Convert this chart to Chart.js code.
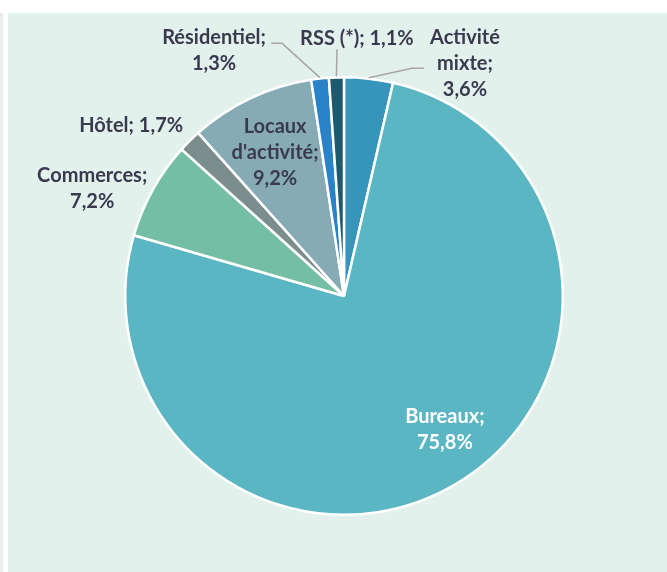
<!DOCTYPE html>
<html>
<head>
<meta charset="utf-8">
<script src="https://cdn.jsdelivr.net/npm/chart.js@4/dist/chart.umd.min.js"></script>
<style>
  body { margin: 0; background: #ffffff; }
  #wrap { position: relative; width: 667px; height: 572px; overflow: hidden; }
  #strip { position: absolute; left: 0; top: 13px; width: 3px; bottom: 0; background: #e4efeb; }
  #panel { position: absolute; left: 8px; top: 13px; right: 0; bottom: 0; background: #e3f1ec; }
  #graphPie { position: absolute; left: 0; top: 0; }
</style>
</head>
<body>
<div id="wrap">
  <div id="strip"></div>
  <div id="panel"></div>
  <canvas id="graphPie" width="667" height="572"></canvas>
</div>
<script>
// Données
const categories = ['Activité mixte', 'Bureaux', 'Commerces', 'Hôtel', "Locaux d'activité", 'Résidentiel', 'RSS (*)'];
const valeurs = [3.6, 75.8, 7.2, 1.7, 9.2, 1.3, 1.1];
const couleurs = ['#3795bc', '#5ab6c2', '#75bea6', '#7b8d8c', '#87abb4', '#2a83c9', '#1f596d'];

// texte des étiquettes (lignes)
const etiquettes = [
    ['Activité', 'mixte;', '3,6%'],
    ['Bureaux;', '75,8%'],
    ['Commerces;', '7,2%'],
    ['Hôtel; 1,7%'],
    ['Locaux', "d'activité;", '9,2%'],
    ['Résidentiel;', '1,3%'],
    ['RSS (*); 1,1%']
];
// position du centre de l'étiquette, en rayons depuis le centre
const posEtiquettes = [
    [0.553, -1.064], [0.461, 0.612], [-1.151, -0.493], [-0.973, -0.781],
    [-0.315, -0.658], [-0.594, -1.123], [0.059, -1.178]
];
// lignes de rappel (points après le bord de l'arc)
const rappels = {
    0: [[0.311, -1.041], [0.365, -1.041]],
    5: [[-0.283, -1.155], [-0.333, -1.155]],
    6: [[-0.032, -1.128]]
};

const pluginEtiquettes = {
    id: 'etiquettes',
    afterDatasetsDraw(chart) {
        const ctx = chart.ctx;
        const arcs = chart.getDatasetMeta(0).data;
        ctx.save();
        arcs.forEach(function(arc, i) {
            const cx = arc.x, cy = arc.y, r = arc.outerRadius;
            const pts = rappels[i];
            if (pts) {
                const mid = (arc.startAngle + arc.endAngle) / 2;
                ctx.beginPath();
                ctx.moveTo(cx + Math.cos(mid) * (r + 1), cy + Math.sin(mid) * (r + 1));
                pts.forEach(function(p) { ctx.lineTo(cx + p[0] * r, cy + p[1] * r); });
                ctx.strokeStyle = '#a6a6a6';
                ctx.lineWidth = 1.5;
                ctx.stroke();
            }
            const lignes = etiquettes[i];
            const lx = cx + posEtiquettes[i][0] * r;
            const ly = cy + posEtiquettes[i][1] * r;
            const h = 26;
            ctx.font = 'bold 20px Lato';
            ctx.textAlign = 'center';
            ctx.textBaseline = 'middle';
            ctx.fillStyle = i === 1 ? '#ffffff' : '#393a4d';
            lignes.forEach(function(t, k) {
                ctx.fillText(t, lx, ly + (k - (lignes.length - 1) / 2) * h);
            });
        });
        ctx.restore();
    }
};

const graphPie = document.querySelector('#graphPie');
new Chart(graphPie, {
    type: 'pie',
    data: {
        labels: categories,
        datasets: [{
            data: valeurs,
            backgroundColor: couleurs,
            borderColor: '#ffffff',
            borderWidth: 2.5
        }]
    },
    options: {
        responsive: false,
        animation: false,
        layout: { padding: { top: 76, left: 124, right: 103, bottom: 56 } },
        plugins: { legend: { display: false }, tooltip: { enabled: false } }
    },
    plugins: [pluginEtiquettes]
});
</script>
</body>
</html>
